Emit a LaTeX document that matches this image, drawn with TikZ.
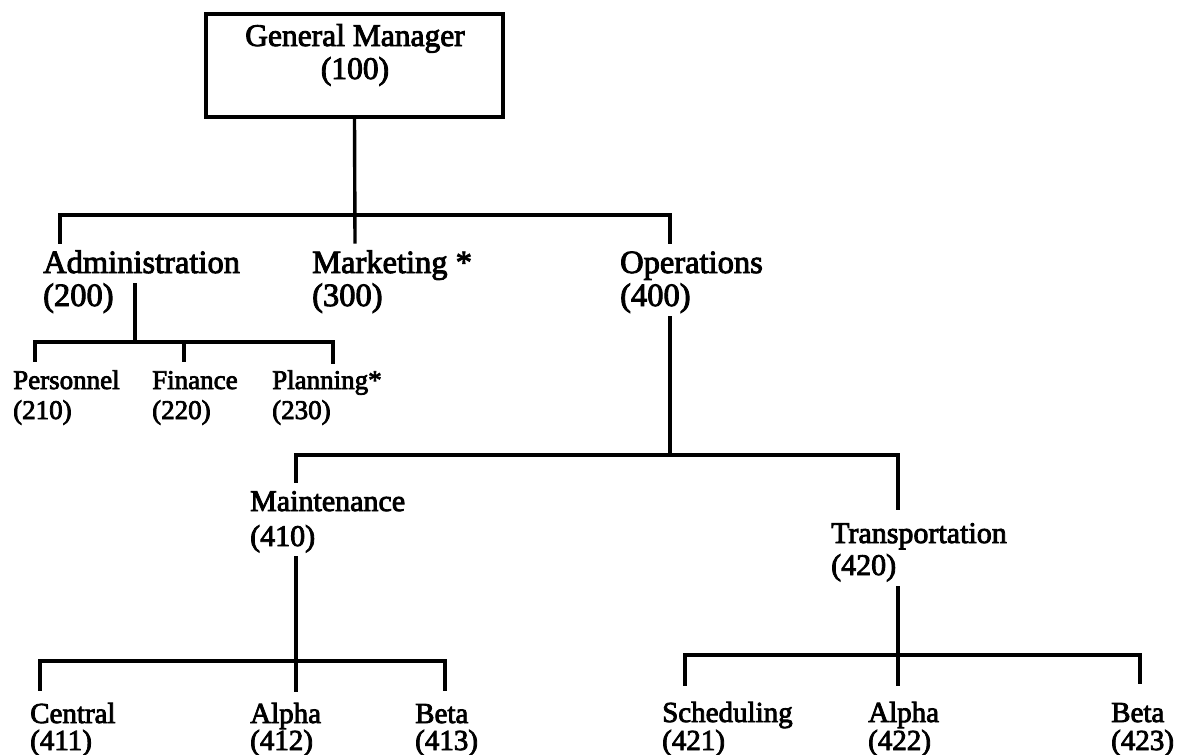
\documentclass[tikz,border=0pt]{standalone}
\usepackage{fontspec}
\setmainfont{Liberation Serif}[FakeBold=2.8]
\begin{document}
\begin{tikzpicture}[x=1pt, y=-1pt,
  conn/.style={line width=3.4pt, line cap=rect},
  gm/.style={inner sep=0, anchor=base, font=\fontsize{31.5}{35}\selectfont},
  lvtwo/.style={inner sep=0, anchor=base west, font=\fontsize{32.5}{36}\selectfont},
  lvsub/.style={inner sep=0, anchor=base west, font=\fontsize{27}{30}\selectfont},
  lvthree/.style={inner sep=0, anchor=base west, font=\fontsize{30}{34}\selectfont},
  lvfour/.style={inner sep=0, anchor=base west, font=\fontsize{29}{32}\selectfont}]
\useasboundingbox (0,0) rectangle (1181,755);

% top box
\node[draw, line width=3.4pt, minimum width=297pt, minimum height=103pt, inner sep=0]
  (gmbox) at (354.5,65.5) {};
\node[gm] (gmt) at (355,46) {General Manager};
\node[gm] (gmn) at (355,79) {(100)};

% second level
\node[lvtwo] (adm) at (43,273) {Administration};
\node[lvtwo] (admn) at (43,306) {(200)};
\node[lvtwo] (mkt) at (312,273) {Marketing *};
\node[lvtwo] (mktn) at (312,306) {(300)};
\node[lvtwo] (ops) at (620,273) {Operations};
\node[lvtwo] (opsn) at (620,306) {(400)};

% administration units
\node[lvsub] (per) at (13,389) {Personnel};
\node[lvsub] (pern) at (13,419) {(210)};
\node[lvsub] (fin) at (152,389) {Finance};
\node[lvsub] (finn) at (152,419) {(220)};
\node[lvsub] (pla) at (272,389) {Planning*};
\node[lvsub] (plan) at (272,419) {(230)};

% operations units
\node[lvthree] (mnt) at (250,511) {Maintenance};
\node[lvthree] (mntn) at (250,546) {(410)};
\node[lvthree] (trn) at (831,543) {Transportation};
\node[lvthree] (trnn) at (831,575) {(420)};

% bottom row
\node[lvfour] (cen) at (30,723) {Central};
\node[lvfour] (cenn) at (30,750) {(411)};
\node[lvfour] (alm) at (250,723) {Alpha};
\node[lvfour] (almn) at (250,750) {(412)};
\node[lvfour] (bem) at (415,723) {Beta};
\node[lvfour] (bemn) at (415,750) {(413)};
\node[lvfour] (sch) at (662,722) {Scheduling};
\node[lvfour] (schn) at (662,750) {(421)};
\node[lvfour] (alt) at (868,722) {Alpha};
\node[lvfour] (altn) at (868,750) {(422)};
\node[lvfour] (bet) at (1111,722) {Beta};
\node[lvfour] (betn) at (1111,750) {(423)};

% junction points
\coordinate (topbarL) at (60,215);
\coordinate (topbarR) at (670,215);
\coordinate (admtop) at (135,285);
\coordinate (subbarL) at (35,342);
\coordinate (subbarR) at (333,342);
\coordinate (opstop) at (670,318);
\coordinate (midbarL) at (296,455);
\coordinate (midbarR) at (898,455);
\coordinate (mnttop) at (296,558);
\coordinate (lowLbarL) at (40,661);
\coordinate (lowLbarR) at (445,661);
\coordinate (trntop) at (898,588);
\coordinate (lowRbarL) at (685,655);
\coordinate (lowRbarR) at (1140,655);

% general manager to second level
\draw[conn] (gmbox.south) -- (355,242);
\draw[conn] (topbarL |- 0,242) -- (topbarL) -- (topbarR) -- (topbarR |- 0,242);

% administration branch
\draw[conn] (admtop) -- (135,342);
\draw[conn] (subbarL |- 0,360) -- (subbarL) -- (subbarR) -- (subbarR |- 0,362);
\draw[conn] (184,342) -- (184,360);

% operations branch
\draw[conn] (opstop) -- (670,455);
\draw[conn] (midbarL |- 0,481) -- (midbarL) -- (midbarR) -- (midbarR |- 0,508);

% maintenance units
\draw[conn] (mnttop) -- (296,690);
\draw[conn] (lowLbarL |- 0,689) -- (lowLbarL) -- (lowLbarR) -- (lowLbarR |- 0,689);

% transportation units
\draw[conn] (trntop) -- (898,684);
\draw[conn] (lowRbarL |- 0,684) -- (lowRbarL) -- (lowRbarR) -- (lowRbarR |- 0,682);
\end{tikzpicture}
\end{document}
